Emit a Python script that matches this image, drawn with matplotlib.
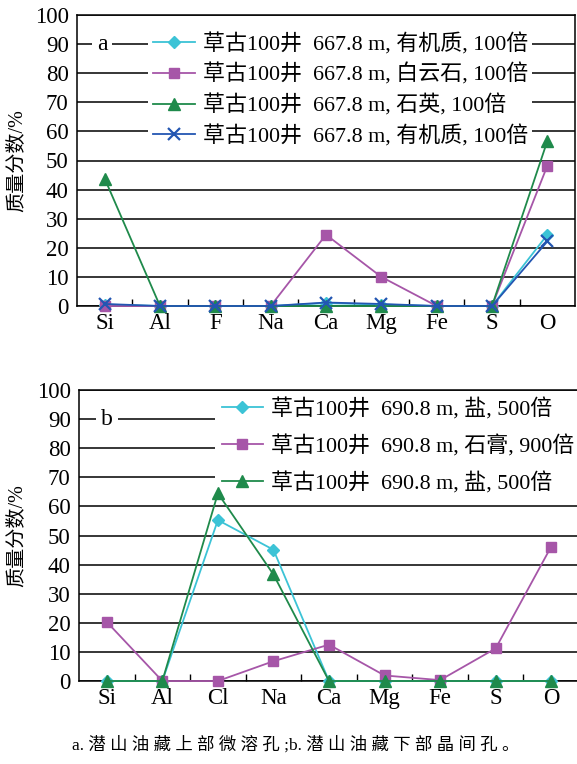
import matplotlib
matplotlib.use("Agg")
import matplotlib.pyplot as plt
from matplotlib.ticker import FixedLocator, MultipleLocator

plt.rcParams['font.family'] = ['Liberation Serif', 'Noto Sans CJK SC']
plt.rcParams['axes.unicode_minus'] = False

# ---- data ----
elements_a = ["Si", "Al", "F", "Na", "Ca", "Mg", "Fe", "S", "O"]
labels_a = [
    "草古100井  667.8 m, 有机质, 100倍",
    "草古100井  667.8 m, 白云石, 100倍",
    "草古100井  667.8 m, 石英, 100倍",
    "草古100井  667.8 m, 有机质, 100倍",
]
organic1_a = [0.5, 0, 0, 0, 1.0, 0.5, 0, 0, 24.5]
dolomite_a = [0, 0, 0, 0, 24.5, 10, 0, 0, 48.2]
quartz_a = [43.8, 0, 0, 0, 0, 0, 0, 0, 56.7]
organic2_a = [0.7, 0, 0, 0, 1.2, 0.7, 0, 0, 22.2]

elements_b = ["Si", "Al", "Cl", "Na", "Ca", "Mg", "Fe", "S", "O"]
labels_b = [
    "草古100井  690.8 m, 盐, 500倍",
    "草古100井  690.8 m, 石膏, 900倍",
    "草古100井  690.8 m, 盐, 500倍",
]
salt1_b = [0, 0, 55.3, 45.1, 0, 0, 0, 0, 0]
gypsum_b = [20.3, 0, 0, 6.8, 12.5, 1.9, 0.3, 11.2, 46.2]
salt2_b = [0, 0, 64.5, 36.6, 0, 0, 0, 0, 0]

caption = "a. 潜 山 油 藏 上 部 微 溶 孔 ;b. 潜 山 油 藏 下 部 晶 间 孔 。"
ylabel = "质量分数/%"

# ---- styles ----
CYAN = "#3cc3d6"
MAGENTA = "#a656a8"
GREEN = "#1f8a4b"
BLUE = "#2356b2"

styles_a = [
    dict(color=CYAN, marker="D", markersize=6.5),
    dict(color=MAGENTA, marker="s", markersize=7.5),
    dict(color=GREEN, marker="^", markersize=8.5),
    dict(color=BLUE, marker="x", markersize=8, markeredgewidth=1.6),
]
styles_b = styles_a[:3]

fig = plt.figure(figsize=(5.77, 7.64), dpi=100)
ax_a = fig.add_axes([77 / 577, 1 - 306 / 764, (575 - 77) / 577, 291 / 764])
ax_b = fig.add_axes([79 / 577, 1 - 681 / 764, (579 - 79) / 577, 291 / 764])


def style_axes(ax, cats, label_x):
    n = len(cats)
    ax.set_xlim(-0.5, n - 0.5)
    ax.set_ylim(0, 100)
    ax.yaxis.set_major_locator(MultipleLocator(10))
    ax.set_xticks(range(n))
    ax.set_xticklabels(cats, fontsize=16.5)
    ax.xaxis.set_minor_locator(FixedLocator([i + 0.5 for i in range(n - 1)]))
    ax.tick_params(axis="x", which="major", length=0, pad=5)
    ax.tick_params(axis="x", which="minor", direction="in", length=5, width=1.0)
    ax.tick_params(axis="y", length=0, pad=6, labelsize=16.5)
    ax.grid(axis="y", color="black", linewidth=1.1)
    ax.set_axisbelow(True)
    for sp in ax.spines.values():
        sp.set_linewidth(1.1)
    ax.set_ylabel(ylabel, fontsize=14.5)
    ax.yaxis.set_label_coords(label_x, 0.5)


def draw(ax, cats, series, labels, styles, tag, label_x, legend_kw):
    style_axes(ax, cats, label_x)
    x = list(range(len(cats)))
    handles = []
    for vals, lab, st in zip(series, labels, styles):
        h, = ax.plot(x, vals, linewidth=1.3, label=lab, zorder=3,
                     markeredgecolor=st["color"] if st["marker"] != "x" else None,
                     clip_on=False, **st)
        handles.append(h)
    leg = ax.legend(handles=handles, fontsize=15.8, frameon=True, fancybox=False,
                    facecolor="white", edgecolor="none", framealpha=1,
                    handletextpad=0.33, borderaxespad=0, **legend_kw)
    # legend box hides the gridlines but stays under the data markers
    leg.set_zorder(2.5)
    ax.text(tag[0], tag[1], tag[2], transform=ax.transAxes, fontsize=17,
            ha="center", va="center", zorder=6,
            bbox=dict(facecolor="white", edgecolor="none", pad=3.5))


draw(ax_a, elements_a, [organic1_a, dolomite_a, quartz_a, organic2_a], labels_a,
     styles_a, (0.05, 0.9, "a"), -0.102,
     dict(loc="upper left", bbox_to_anchor=(0.143, 0.953), handlelength=1.95,
          labelspacing=0.39, borderpad=0.2))
draw(ax_b, elements_b, [salt1_b, gypsum_b, salt2_b], labels_b,
     styles_b, (0.056, 0.9, "b"), -0.106,
     dict(loc="upper left", bbox_to_anchor=(0.272, 0.995), handlelength=1.9,
          labelspacing=0.68, borderpad=0.3))

fig.text(296 / 577, 1 - 745 / 764, caption, fontsize=12.5, ha="center", va="center")

fig.savefig("out.png", dpi=100)
